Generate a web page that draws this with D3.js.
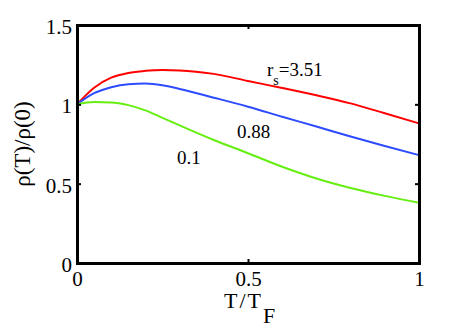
<!DOCTYPE html>
<html lang="en">
<head>
    <meta charset="UTF-8"/>
    <title>rho(T)/rho(0)</title>
    <script src="https://cdnjs.cloudflare.com/ajax/libs/d3/7.8.5/d3.min.js"></script>
    <style>
        body { margin: 0; background: #fff; }
        svg text { font-family: "Liberation Serif", "Liberation Sans", Arial, sans-serif; fill: #000; }
    </style>
</head>
<body>
<div id="chart"></div>
<script>
    // Data
    const temps = [0, 0.05, 0.1, 0.15, 0.2, 0.25, 0.3, 0.4, 0.5, 0.6, 0.7, 0.8, 0.9, 1.0];
    const rho351 = [1.0, 1.105, 1.168, 1.198, 1.211, 1.216, 1.214, 1.192, 1.147, 1.103, 1.057, 1.006, 0.944, 0.88];
    const rho088 = [1.0, 1.07, 1.108, 1.127, 1.131, 1.12, 1.097, 1.042, 0.985, 0.922, 0.86, 0.797, 0.737, 0.68];
    const rho01 = [1.0, 1.014, 1.012, 0.995, 0.962, 0.915, 0.867, 0.775, 0.692, 0.607, 0.533, 0.473, 0.423, 0.38];
    const xTicks = [0, 0.5, 1];
    const yTicks = [0, 0.5, 1, 1.5];

    const width = 463;
    const height = 327;
    const margin = {top: 25, right: 44, bottom: 64, left: 77};

    const svg = d3.select("#chart")
        .append("svg")
        .attr("width", width)
        .attr("height", height);

    const xScale = d3.scaleLinear()
        .domain([0, 1])
        .range([margin.left, width - margin.right]);

    const yScale = d3.scaleLinear()
        .domain([0, 1.5])
        .range([height - margin.bottom, margin.top]);

    // Curves
    const series = [
        {values: rho351, color: "#ff0000"},
        {values: rho088, color: "#2d4cff"},
        {values: rho01, color: "#66ee11"}
    ];

    const line = d3.line()
        .x((d, i) => xScale(temps[i]))
        .y(d => yScale(d))
        .curve(d3.curveMonotoneX);

    svg.selectAll(".curve")
        .data(series)
        .enter()
        .append("path")
        .attr("class", "curve")
        .attr("d", d => line(d.values))
        .attr("fill", "none")
        .attr("stroke", d => d.color)
        .attr("stroke-width", 2);

    // Axes (box with inward ticks)
    const axisBottomG = svg.append("g")
        .attr("transform", `translate(0,${yScale(0)})`)
        .call(d3.axisBottom(xScale).tickValues(xTicks).tickSize(-4).tickPadding(8).tickFormat(d3.format("")));
    const axisTopG = svg.append("g")
        .attr("transform", `translate(0,${yScale(1.5)})`)
        .call(d3.axisTop(xScale).tickValues(xTicks).tickSize(-4).tickFormat(""));
    const axisLeftG = svg.append("g")
        .attr("transform", `translate(${xScale(0)},0)`)
        .call(d3.axisLeft(yScale).tickValues(yTicks).tickSize(-4).tickPadding(5).tickFormat(d3.format("")));
    const axisRightG = svg.append("g")
        .attr("transform", `translate(${xScale(1)},0)`)
        .call(d3.axisRight(yScale).tickValues(yTicks).tickSize(-4).tickFormat(""));

    [axisBottomG, axisTopG, axisLeftG, axisRightG].forEach(g => {
        g.attr("font-family", null).attr("font-size", 21);
        g.select(".domain").attr("stroke", "#000").attr("stroke-width", 3);
        g.selectAll(".tick line").attr("stroke", "#000").attr("stroke-width", 2);
    });
    axisLeftG.selectAll(".tick text").attr("dy", "0.4em");

    // Axis titles
    const xTitle = svg.append("text")
        .attr("x", 224)
        .attr("y", 308)
        .attr("font-size", 22)
        .attr("letter-spacing", 2);
    xTitle.append("tspan").text("T/T");
    xTitle.append("tspan").attr("dy", 15).text("F");

    svg.append("text")
        .attr("transform", `translate(30,${yScale(0.75)}) rotate(-90)`)
        .attr("text-anchor", "middle")
        .attr("font-size", 23)
        .text("ρ(T)/ρ(0)");

    // Curve labels
    const rsLabel = svg.append("text")
        .attr("x", 267)
        .attr("y", 76)
        .attr("font-size", 19);
    rsLabel.append("tspan").text("r");
    rsLabel.append("tspan").attr("dy", 9).attr("font-size", 14).text("s");
    rsLabel.append("tspan").attr("dy", -9).text("=3.51");

    svg.append("text")
        .attr("x", 237)
        .attr("y", 138)
        .attr("font-size", 19)
        .text("0.88");

    svg.append("text")
        .attr("x", 177)
        .attr("y", 164)
        .attr("font-size", 19)
        .text("0.1");
</script>
</body>
</html>
